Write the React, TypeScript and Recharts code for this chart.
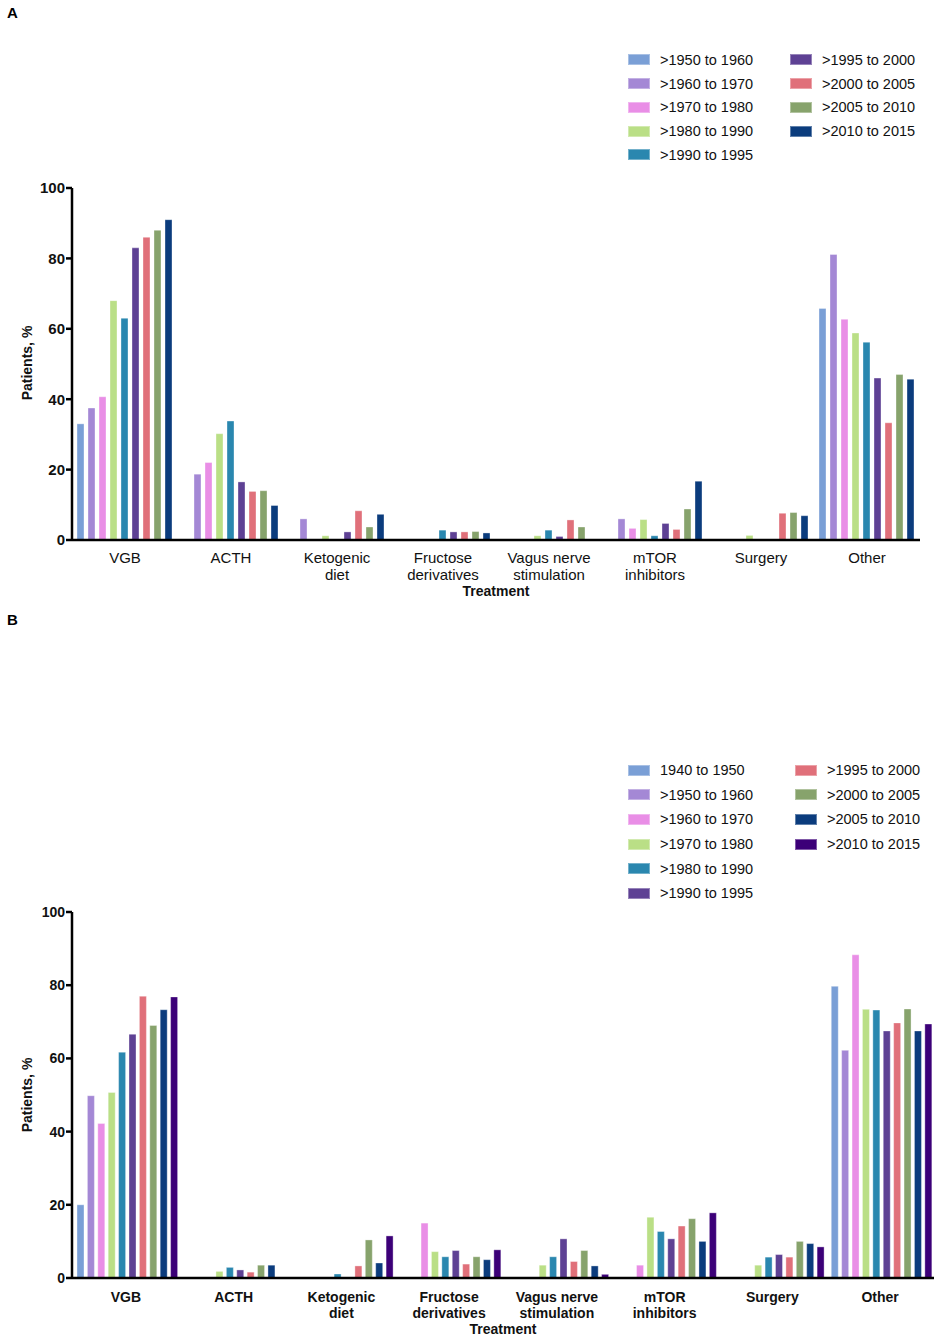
import { BarChart, Bar, XAxis, YAxis, Legend } from 'recharts';

const FONT = '"Liberation Sans", Arial, Helvetica, sans-serif';

const categories = [
  'VGB',
  'ACTH',
  'Ketogenic\ndiet',
  'Fructose\nderivatives',
  'Vagus nerve\nstimulation',
  'mTOR\ninhibitors',
  'Surgery',
  'Other',
];

const yTicks = [0, 20, 40, 60, 80, 100];

// Panel A — per period, values by treatment (same order as categories)
const periodsA = [
  '>1950 to 1960',
  '>1960 to 1970',
  '>1970 to 1980',
  '>1980 to 1990',
  '>1990 to 1995',
  '>1995 to 2000',
  '>2000 to 2005',
  '>2005 to 2010',
  '>2010 to 2015',
];
const a1950 = [33, 0, 0, 0, 0, 0, 0, 65.8];
const a1960 = [37.5, 18.7, 6, 0, 0, 6, 0, 81.1];
const a1970 = [40.7, 22, 0, 0, 0, 3.3, 0, 62.7];
const a1980 = [68, 30.2, 1.2, 0, 1.2, 5.8, 1.3, 58.8];
const a1990 = [63, 33.8, 0, 2.8, 2.8, 1.2, 0, 56.2];
const a1995 = [83, 16.5, 2.3, 2.3, 1.0, 4.7, 0, 46];
const a2000 = [86, 13.8, 8.3, 2.3, 5.7, 3.0, 7.6, 33.3];
const a2005 = [88, 14, 3.7, 2.4, 3.7, 8.8, 7.8, 47];
const a2010 = [91, 9.8, 7.3, 2.0, 0, 16.7, 6.9, 45.7];
const colorsA = ['#7A9FD6', '#A488D5', '#E98EE6', '#BADF86', '#2A87AF', '#5E4194', '#E0707A', '#87A36C', '#0B3C7D'];

// Panel B
const periodsB = [
  '1940 to 1950',
  '>1950 to 1960',
  '>1960 to 1970',
  '>1970 to 1980',
  '>1980 to 1990',
  '>1990 to 1995',
  '>1995 to 2000',
  '>2000 to 2005',
  '>2005 to 2010',
  '>2010 to 2015',
];
const b1940 = [20, 0, 0, 0, 0, 0, 0, 79.7];
const b1950 = [49.8, 0, 0, 0, 0, 0, 0, 62.2];
const b1960 = [42.2, 0, 0, 15, 0, 3.5, 0, 88.3];
const b1970 = [50.7, 1.8, 0, 7.2, 3.5, 16.6, 3.5, 73.4];
const b1980 = [61.7, 2.9, 1.1, 5.8, 5.8, 12.7, 5.7, 73.2];
const b1990 = [66.6, 2.2, 0, 7.5, 10.7, 10.7, 6.4, 67.5];
const b1995 = [77, 1.6, 3.3, 3.8, 4.5, 14.2, 5.7, 69.7];
const b2000 = [69, 3.5, 10.4, 5.8, 7.5, 16.2, 10.0, 73.5];
const b2005 = [73.3, 3.5, 4.1, 5.0, 3.3, 10.0, 9.4, 67.5];
const b2010 = [76.8, 0, 11.5, 7.7, 1.0, 17.8, 8.5, 69.4];
const colorsB = ['#7A9FD6', '#A488D5', '#E98EE6', '#BADF86', '#2A87AF', '#5E4194', '#E0707A', '#87A36C', '#0B3C7D', '#3C0078'];

const seriesA = [a1950, a1960, a1970, a1980, a1990, a1995, a2000, a2005, a2010];
const seriesB = [b1940, b1950, b1960, b1970, b1980, b1990, b1995, b2000, b2005, b2010];

function buildRows(series: number[][]) {
  return categories.map((name, i) => {
    const row: Record<string, string | number> = { name };
    series.forEach((s, k) => {
      row[`s${k}`] = s[i];
    });
    return row;
  });
}

const rowsA = buildRows(seriesA);
const rowsB = buildRows(seriesB);

interface PanelConfig {
  rows: Record<string, string | number>[];
  periods: string[];
  colors: string[];
  height: number;
  margin: { top: number; right: number; left: number; bottom: number };
  barGap: number;
  catBold: boolean;
  catSize: number;
  tickSize: number;
  xAxisHeight: number;
  line1: number;
  lineH: number;
  treatmentOffset: number;
  yLabelY: number;
  legendTop: number;
  legendRows: number;
  legendRowH: number;
  legendColW: number;
}

function Panel(cfg: PanelConfig) {
  const CatTick = (props: { x?: number; y?: number; payload?: { value: string } }) => {
    const { x = 0, y = 0, payload } = props;
    const lines = String(payload?.value ?? '').split('\n');
    return (
      <text
        x={x}
        y={y}
        textAnchor="middle"
        fontFamily={FONT}
        fontSize={cfg.catSize}
        fontWeight={cfg.catBold ? 700 : 400}
        fill="#111"
      >
        {lines.map((l, i) => (
          <tspan key={i} x={x} dy={i === 0 ? cfg.line1 : cfg.lineH}>
            {l}
          </tspan>
        ))}
      </text>
    );
  };

  const legendContent = () => (
    <div
      style={{
        display: 'grid',
        gridAutoFlow: 'column',
        gridTemplateRows: `repeat(${cfg.legendRows}, ${cfg.legendRowH}px)`,
        gridTemplateColumns: `${cfg.legendColW}px auto`,
        fontFamily: FONT,
        fontSize: 14.5,
        color: '#111',
      }}
    >
      {cfg.periods.map((p, i) => (
        <div key={p} style={{ display: 'flex', alignItems: 'center' }}>
          <span
            style={{
              display: 'inline-block',
              width: 20,
              height: 9,
              background: cfg.colors[i],
              border: '1px solid rgba(255,255,255,0.35)',
              marginRight: 10,
            }}
          />
          <span>{p}</span>
        </div>
      ))}
    </div>
  );

  return (
    <BarChart
      width={939}
      height={cfg.height}
      data={cfg.rows}
      margin={cfg.margin}
      barCategoryGap={5}
      barGap={cfg.barGap}
    >
      <XAxis
        dataKey="name"
        interval={0}
        tickLine={false}
        tickSize={0}
        tickMargin={0}
        height={cfg.xAxisHeight}
        axisLine={{ stroke: '#000', strokeWidth: 2.5 }}
        tick={CatTick}
        label={{
          value: 'Treatment',
          position: 'insideBottom',
          offset: cfg.treatmentOffset,
          style: { fontFamily: FONT, fontSize: 14, fontWeight: 700, fill: '#111' },
        }}
      />
      <YAxis
        width={60}
        domain={[0, 100]}
        ticks={yTicks}
        interval={0}
        tickSize={6}
        tickMargin={1}
        axisLine={{ stroke: '#000', strokeWidth: 2.5 }}
        tickLine={{ stroke: '#000', strokeWidth: 2.5 }}
        tick={{ fontFamily: FONT, fontSize: cfg.tickSize, fontWeight: 700, fill: '#111' }}
        label={{
          content: () => (
            <text
              x={27}
              y={cfg.yLabelY}
              transform={`rotate(-90 27 ${cfg.yLabelY})`}
              textAnchor="middle"
              dominantBaseline="central"
              fontFamily={FONT}
              fontSize={14}
              fontWeight={700}
              fill="#111"
            >
              Patients, %
            </text>
          ),
        }}
      />
      <Legend
        layout="vertical"
        align="center"
        verticalAlign="middle"
        content={legendContent}
        wrapperStyle={{ top: cfg.legendTop, left: 628, width: 300 }}
      />
      {cfg.periods.map((p, k) => (
        <Bar
          key={p}
          dataKey={`s${k}`}
          name={p}
          fill={cfg.colors[k]}
          stroke="#ffffff"
          strokeOpacity={0.35}
          strokeWidth={1}
          isAnimationActive={false}
        />
      ))}
    </BarChart>
  );
}

export default function App() {
  return (
    <div style={{ position: 'absolute', left: 0, top: 0, width: 939, height: 1339, background: '#fff', fontFamily: FONT }}>
      <div style={{ position: 'absolute', left: 7, top: 4, fontWeight: 700, fontSize: 15 }}>A</div>
      <div style={{ position: 'absolute', left: 0, top: 0 }}>
        <Panel
          rows={rowsA}
          periods={periodsA}
          colors={colorsA}
          height={610}
          margin={{ top: 188, right: 19, left: 12, bottom: 10 }}
          barGap={4}
          catBold={false}
          catSize={15}
          tickSize={15}
          xAxisHeight={60}
          line1={23}
          lineH={16.5}
          treatmentOffset={4}
          yLabelY={363}
          legendTop={48}
          legendRows={5}
          legendRowH={23.75}
          legendColW={162}
        />
      </div>
      <div style={{ position: 'absolute', left: 7, top: 611, fontWeight: 700, fontSize: 15 }}>B</div>
      <div style={{ position: 'absolute', left: 0, top: 610 }}>
        <Panel
          rows={rowsB}
          periods={periodsB}
          colors={colorsB}
          height={729}
          margin={{ top: 302, right: 5, left: 12, bottom: 3 }}
          barGap={3.4}
          catBold={true}
          catSize={14}
          tickSize={14}
          xAxisHeight={58}
          line1={24}
          lineH={16}
          treatmentOffset={2}
          yLabelY={485}
          legendTop={148}
          legendRows={6}
          legendRowH={24.6}
          legendColW={167}
        />
      </div>
    </div>
  );
}
